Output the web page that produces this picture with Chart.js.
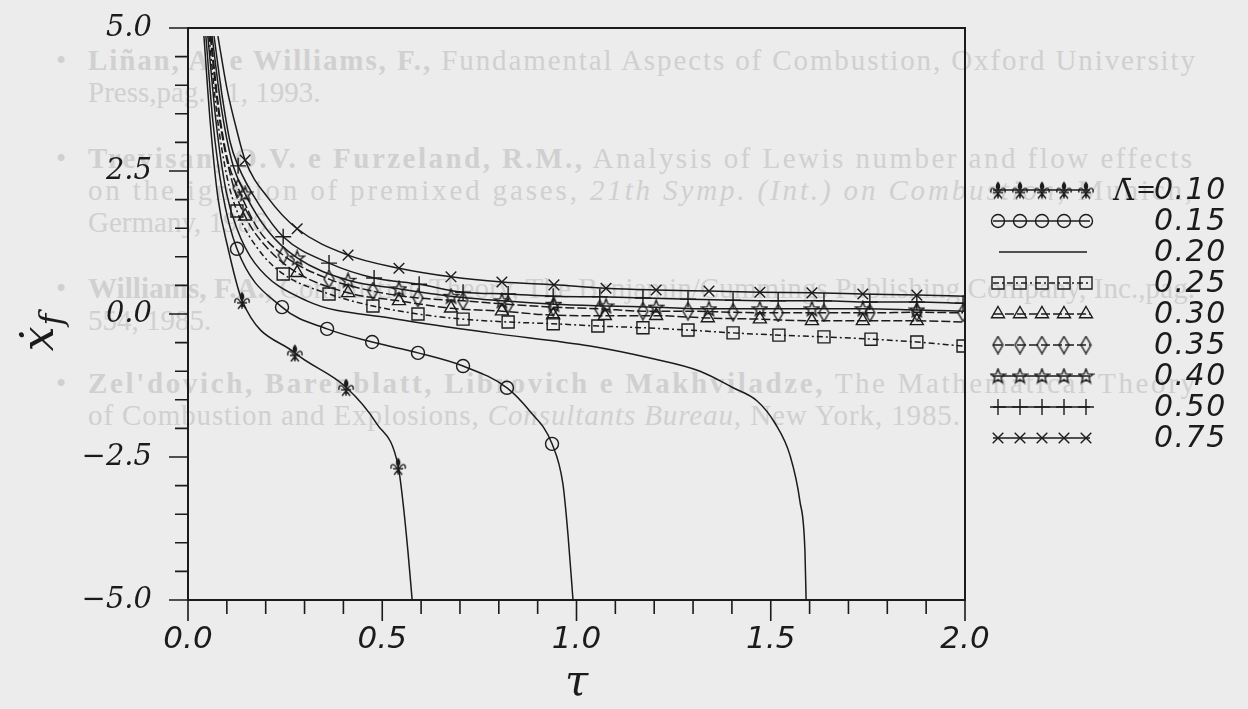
<!DOCTYPE html>
<html lang="pt">
<head>
<meta charset="utf-8">
<title>xf vs tau</title>
<script src="https://cdn.jsdelivr.net/npm/chart.js@4.4.1/dist/chart.umd.min.js"></script>
<style>
  html, body { margin: 0; padding: 0; background: #ececec; }
  #page { position: relative; width: 1248px; height: 709px; overflow: hidden; }
  #bleed, #chart { position: absolute; left: 0; top: 0; }
</style>
</head>
<body>
<div id="page">
<svg id="bleed" width="1248" height="709" font-family="Liberation Serif" font-size="29" fill="#d0d0d0">
  <text x="56" y="70">•</text>
  <text x="88" y="70" textLength="1107" lengthAdjust="spacing"><tspan font-weight="bold">Liñan, A. e Williams, F.,</tspan> Fundamental Aspects of Combustion, Oxford University</text>
  <text x="88" y="102">Press,pag. 11, 1993.</text>
  <text x="56" y="168">•</text>
  <text x="88" y="168" textLength="1104" lengthAdjust="spacing"><tspan font-weight="bold">Trevisan, O.V. e Furzeland, R.M.,</tspan> Analysis of Lewis number and flow effects</text>
  <text x="88" y="200" textLength="1104" lengthAdjust="spacing">on the ignition of premixed gases, <tspan font-style="italic">21th Symp. (Int.) on Combustion</tspan>, Munich,</text>
  <text x="88" y="232">Germany, 1986.</text>
  <text x="56" y="298">•</text>
  <text x="88" y="298" textLength="1107" lengthAdjust="spacing"><tspan font-weight="bold">Williams, F.A.,</tspan> Combustion Theory, The Benjamin/Cummings Publishing Company, Inc.,pag.</text>
  <text x="88" y="330">554, 1985.</text>
  <text x="56" y="393">•</text>
  <text x="88" y="393" textLength="1107" lengthAdjust="spacing"><tspan font-weight="bold">Zel'dovich, Barenblatt, Librovich e Makhviladze,</tspan> The Mathematical Theory</text>
  <text x="88" y="425" textLength="872" lengthAdjust="spacing">of Combustion and Explosions, <tspan font-style="italic">Consultants Bureau</tspan>, New York, 1985.</text>
</svg>
<canvas id="chart" width="1248" height="709"></canvas>
</div>
<script>
'use strict';

var ink = '#1b1b1b';

var lambdas = ['0.10', '0.15', '0.20', '0.25', '0.30', '0.35', '0.40', '0.50', '0.75'];

// [tau, xf] where a marker is drawn, and extra [tau, xf] points on the same curve
var marks010 = [[0.139, 0.24], [0.275, -0.68], [0.407, -1.28], [0.541, -2.66]];
var curve010 = [[0.041, 4.86], [0.057, 3.37], [0.077, 2.03], [0.103, 1.15], [0.486, -1.92], [0.553, -3.27], [0.566, -4.14], [0.577, -5.0]];

var marks015 = [[0.126, 1.14], [0.242, 0.12], [0.358, -0.26], [0.474, -0.49], [0.592, -0.68], [0.708, -0.91], [0.821, -1.29], [0.937, -2.27]];
var curve015 = [[0.046, 4.86], [0.064, 3.37], [0.088, 2.15], [0.880, -1.70], [0.965, -2.97], [0.978, -3.85], [0.991, -5.0]];

var marks020 = [];
var curve020 = [[0.051, 4.86], [0.072, 3.37], [0.098, 2.15], [0.126, 1.49], [0.172, 0.89], [0.306, 0.23], [0.520, -0.07], [0.777, -0.33], [1.035, -0.56], [1.189, -0.77], [1.318, -1.00], [1.403, -1.29], [1.465, -1.52], [1.511, -1.91], [1.550, -2.48], [1.575, -3.27], [1.588, -4.14], [1.591, -5.0]];

var marks025 = [[0.126, 1.80], [0.245, 0.70], [0.363, 0.35], [0.476, 0.14], [0.592, 0.00], [0.708, -0.09], [0.824, -0.14], [0.940, -0.17], [1.055, -0.21], [1.171, -0.24], [1.287, -0.28], [1.403, -0.33], [1.521, -0.37], [1.637, -0.40], [1.758, -0.44], [1.876, -0.49], [1.995, -0.56]];
var curve025 = [[0.054, 4.86], [0.075, 3.46], [0.100, 2.41], [0.180, 1.14]];

var marks030 = [[0.147, 1.71], [0.281, 0.72], [0.412, 0.37], [0.543, 0.23], [0.677, 0.10], [0.808, 0.05], [0.940, -0.02], [1.073, -0.03], [1.205, -0.03], [1.338, -0.07], [1.472, -0.09], [1.606, -0.12], [1.737, -0.12], [1.876, -0.12]];
var curve030 = [[0.057, 4.86], [0.080, 3.46], [0.113, 2.33], [0.206, 1.14], [2.0, -0.14]];

var marks035 = [[0.129, 2.20], [0.245, 1.03], [0.363, 0.61], [0.476, 0.40], [0.592, 0.28], [0.708, 0.23], [0.824, 0.17], [0.940, 0.12], [1.060, 0.09], [1.171, 0.05], [1.287, 0.05], [1.403, 0.03], [1.519, 0.02], [1.637, 0.02], [1.755, 0.02], [1.876, 0.03], [1.995, 0.02]];
var curve035 = [[0.059, 4.86], [0.080, 3.55], [0.103, 2.67], [0.180, 1.49]];

var marks040 = [[0.147, 2.10], [0.281, 0.98], [0.412, 0.59], [0.543, 0.44], [0.677, 0.31], [0.808, 0.23], [0.942, 0.17], [1.076, 0.14], [1.205, 0.12], [1.341, 0.09], [1.472, 0.09], [1.606, 0.09], [1.737, 0.09], [1.876, 0.07]];
var curve040 = [[0.062, 4.86], [0.085, 3.64], [0.113, 2.67], [0.206, 1.45], [2.0, 0.05]];

var marks050 = [[0.129, 2.59], [0.245, 1.35], [0.363, 0.89], [0.479, 0.63], [0.595, 0.52], [0.708, 0.38], [0.824, 0.35], [0.940, 0.31], [1.060, 0.30], [1.171, 0.28], [1.287, 0.26], [1.403, 0.24], [1.519, 0.23], [1.637, 0.23], [1.755, 0.21], [1.876, 0.21], [1.995, 0.19]];
var curve050 = [[0.067, 4.86], [0.088, 3.81], [0.108, 3.02], [0.185, 1.89]];

var marks075 = [[0.147, 2.69], [0.281, 1.49], [0.412, 1.03], [0.543, 0.80], [0.677, 0.65], [0.808, 0.56], [0.942, 0.51], [1.076, 0.45], [1.205, 0.42], [1.341, 0.40], [1.472, 0.38], [1.606, 0.37], [1.737, 0.35], [1.876, 0.33]];
var curve075 = [[0.077, 4.86], [0.100, 3.95], [0.126, 3.20], [0.206, 2.03], [2.0, 0.31]];

var markSets = [marks010, marks015, marks020, marks025, marks030, marks035, marks040, marks050, marks075];
var curveSets = [curve010, curve015, curve020, curve025, curve030, curve035, curve040, curve050, curve075];

function makeStyle(w, h, draw) {
  var c = document.createElement('canvas');
  c.width = w;
  c.height = h;
  var g = c.getContext('2d');
  g.strokeStyle = ink;
  g.fillStyle = ink;
  g.lineWidth = 1.4;
  draw(g);
  return c;
}

var fleurStyle = makeStyle(18, 19, function (g) {
  g.beginPath();
  g.moveTo(9, 1);
  g.bezierCurveTo(12, 4, 12, 8, 9, 10);
  g.bezierCurveTo(6, 8, 6, 4, 9, 1);
  g.fill();
  g.beginPath();
  g.moveTo(8, 12); g.bezierCurveTo(5, 6, 1, 7, 2, 12);
  g.moveTo(10, 12); g.bezierCurveTo(13, 6, 17, 7, 16, 12);
  g.moveTo(4, 12); g.lineTo(14, 12);
  g.moveTo(9, 10); g.lineTo(9, 18);
  g.moveTo(9, 13); g.lineTo(5, 18);
  g.moveTo(9, 13); g.lineTo(13, 18);
  g.stroke();
});

var starStyle = makeStyle(17, 17, function (g) {
  g.beginPath();
  for (var i = 0; i < 10; i++) {
    var r = i % 2 ? 3.2 : 7.6;
    var a = -Math.PI / 2 + i * Math.PI / 5;
    var px = 8.5 + r * Math.cos(a);
    var py = 9 + r * Math.sin(a);
    if (i === 0) g.moveTo(px, py); else g.lineTo(px, py);
  }
  g.closePath();
  g.stroke();
});

var diamondStyle = makeStyle(13, 19, function (g) {
  g.beginPath();
  g.moveTo(6.5, 1);
  g.lineTo(11.5, 9.5);
  g.lineTo(6.5, 18);
  g.lineTo(1.5, 9.5);
  g.closePath();
  g.stroke();
});

var pointStyles = [fleurStyle, 'circle', false, 'rect', 'triangle', diamondStyle, starStyle, 'cross', 'crossRot'];
var pointSizes = [9, 6.5, 0, 8.5, 7.5, 9, 8, 8, 7.5];
var dashes = [[], [], [], [6, 3, 2, 3], [9, 3], [9, 3], [], [], []];

function toPoints(marks, curve) {
  var pts = marks.map(function (p) { return { x: p[0], y: p[1], m: true }; })
    .concat(curve.map(function (p) { return { x: p[0], y: p[1], m: false }; }));
  pts.sort(function (a, b) { return a.x - b.x; });
  return pts;
}

function onStep(v, step) {
  return Math.abs(v / step - Math.round(v / step)) < 1e-6;
}

function fmt(v) {
  return v.toFixed(1).replace('-', '\u2212');
}

var datasets = lambdas.map(function (lam, i) {
  var r = pointSizes[i];
  return {
    label: lam,
    data: toPoints(markSets[i], curveSets[i]),
    borderColor: ink,
    borderWidth: 1.5,
    borderDash: dashes[i],
    cubicInterpolationMode: 'monotone',
    pointStyle: pointStyles[i] || 'circle',
    pointRadius: function (c) { return c.raw && c.raw.m ? r : 0; },
    pointHoverRadius: 0,
    pointBorderColor: ink,
    pointBackgroundColor: 'rgba(0,0,0,0)',
    pointBorderWidth: 1.4,
    markRadius: r,
    hasMarks: !!pointStyles[i]
  };
});

// frame and the two lengths of tick marks
var framePlugin = {
  id: 'frame',
  beforeDatasetsDraw: function (chart) {
    var ctx = chart.ctx;
    var area = chart.chartArea;
    var xs = chart.scales.x;
    var ys = chart.scales.y;
    ctx.save();
    ctx.strokeStyle = ink;
    ctx.lineWidth = 2;
    ctx.strokeRect(area.left, area.top, area.right - area.left, area.bottom - area.top);
    ctx.lineWidth = 1.6;
    ctx.beginPath();
    xs.ticks.forEach(function (t) {
      var px = xs.getPixelForValue(t.value);
      var len = onStep(t.value, 0.5) ? 21 : 14;
      ctx.moveTo(px, area.bottom);
      ctx.lineTo(px, area.bottom + len);
    });
    ys.ticks.forEach(function (t) {
      var py = ys.getPixelForValue(t.value);
      var len = onStep(t.value, 2.5) ? 19 : 13;
      ctx.moveTo(area.left - len, py);
      ctx.lineTo(area.left, py);
    });
    ctx.stroke();
    ctx.restore();
  }
};

var legendPlugin = {
  id: 'sideLegend',
  afterDraw: function (chart) {
    var ctx = chart.ctx;
    ctx.save();
    chart.data.datasets.forEach(function (ds, i) {
      var y = 190 + i * 31;
      ctx.strokeStyle = ink;
      ctx.lineWidth = 1.5;
      ctx.setLineDash(ds.borderDash);
      ctx.beginPath();
      ctx.moveTo(ds.hasMarks ? 993 : 999, y);
      ctx.lineTo(ds.hasMarks ? 1090 : 1087, y);
      ctx.stroke();
      ctx.setLineDash([]);
      if (ds.hasMarks) {
        ctx.fillStyle = 'rgba(0,0,0,0)';
        ctx.lineWidth = 1.4;
        for (var k = 0; k < 5; k++) {
          Chart.helpers.drawPoint(ctx, { pointStyle: ds.pointStyle, radius: ds.markRadius, borderWidth: 1.4, rotation: 0 }, 998 + k * 22, y);
        }
      }
      ctx.fillStyle = ink;
      ctx.font = 'italic 30px "DejaVu Sans"';
      ctx.letterSpacing = '1.5px';
      ctx.textBaseline = 'middle';
      ctx.textAlign = 'left';
      ctx.fillText(ds.label, 1154, y + 1);
      if (i === 0) {
        ctx.letterSpacing = '0px';
        ctx.textAlign = 'right';
        ctx.font = 'italic 24px "DejaVu Sans"';
        ctx.fillText('=', 1156, y + 1);
        ctx.font = '29px "DejaVu Serif"';
        ctx.fillText('\u039B\u0304', 1134, y + 2);
      }
    });
    ctx.restore();
  }
};

// rotated y title: x dot with subscript f
var yTitlePlugin = {
  id: 'yTitle',
  afterDraw: function (chart) {
    var ctx = chart.ctx;
    ctx.save();
    ctx.translate(45, 333);
    ctx.rotate(-Math.PI / 2);
    ctx.fillStyle = ink;
    ctx.textBaseline = 'alphabetic';
    ctx.font = 'italic 44px "DejaVu Serif"';
    var w = ctx.measureText('\u1E8B').width;
    ctx.font = 'italic 32px "DejaVu Serif"';
    var fw = ctx.measureText('f').width;
    var x0 = -(w + fw) / 2;
    ctx.font = 'italic 44px "DejaVu Serif"';
    ctx.fillText('\u1E8B', x0, 8);
    ctx.font = 'italic 32px "DejaVu Serif"';
    ctx.fillText('f', x0 + w + 1, 17);
    ctx.restore();
  }
};

new Chart(document.getElementById('chart'), {
  type: 'line',
  data: { datasets: datasets },
  options: {
    responsive: false,
    animation: false,
    devicePixelRatio: 1,
    events: [],
    layout: { padding: { top: 28, right: 283, bottom: 0, left: 0 } },
    plugins: { legend: { display: false }, tooltip: { enabled: false } },
    scales: {
      x: {
        type: 'linear',
        min: 0,
        max: 2,
        afterFit: function (s) { s.height = 109; s.paddingLeft = 0; s.paddingRight = 0; },
        grid: { display: false, drawTicks: false },
        border: { display: false },
        ticks: {
          stepSize: 0.1,
          autoSkip: false,
          maxTicksLimit: 100,
          maxRotation: 0,
          padding: 21,
          color: ink,
          font: { family: 'DejaVu Sans', style: 'italic', size: 31 },
          callback: function (v) { return onStep(v, 0.5) ? fmt(v) : ''; }
        },
        title: {
          display: true,
          text: '\u03C4',
          color: ink,
          padding: { top: 0, bottom: 0 },
          font: { family: 'DejaVu Serif', style: 'italic', size: 42 }
        }
      },
      y: {
        type: 'linear',
        min: -5,
        max: 5,
        afterFit: function (s) { s.width = 188; s.paddingTop = 0; s.paddingBottom = 0; },
        grid: { display: false, drawTicks: false },
        border: { display: false },
        ticks: {
          stepSize: 0.5,
          autoSkip: false,
          maxTicksLimit: 100,
          padding: 36,
          color: ink,
          font: { family: 'DejaVu Serif', style: 'italic', size: 29 },
          callback: function (v) { return onStep(v, 2.5) ? fmt(v) : ''; }
        }
      }
    }
  },
  plugins: [framePlugin, legendPlugin, yTitlePlugin]
});
</script>
</body>
</html>
